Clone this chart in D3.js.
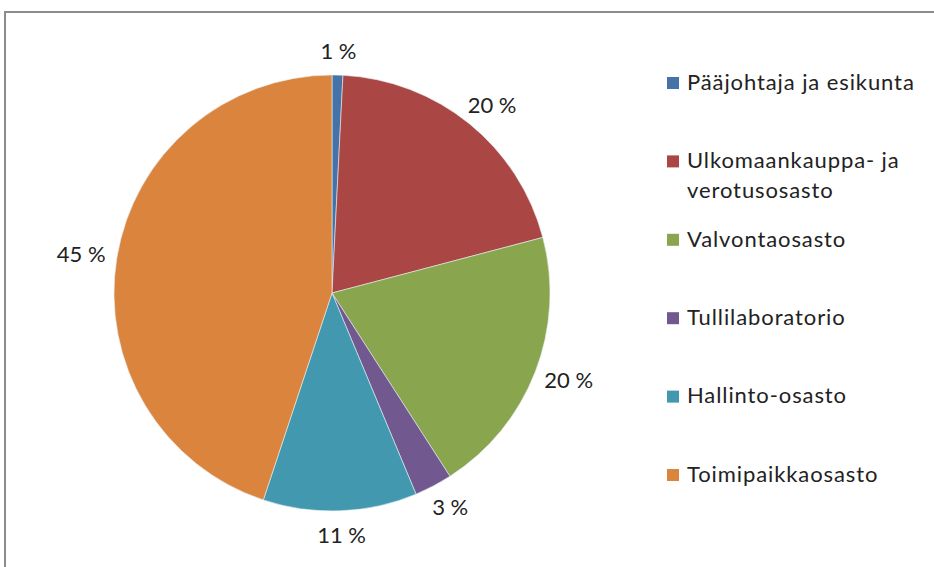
<!DOCTYPE html>
<html lang="fi">
    <head>
        <meta charset="utf-8">
        <title>Henkilöstö osastoittain (Pie)</title>
        <script type="text/javascript" src="https://d3js.org/d3.v7.min.js"></script>
        <style type="text/css">
            body { margin: 0; background: #fff; }
            svg { display: block; }
        </style>
    </head>
    <body>
        <script type="text/javascript">

        //Data
        const categories = ["Pääjohtaja ja esikunta", "Ulkomaankauppa- ja verotusosasto", "Valvontaosasto",
                            "Tullilaboratorio", "Hallinto-osasto", "Toimipaikkaosasto"];
        const values = [0.8, 20.1, 20.0, 2.8, 11.4, 44.9];
        const pctLabels = ["1 %", "20 %", "20 %", "3 %", "11 %", "45 %"];
        const legendLines = [["Pääjohtaja ja esikunta"], ["Ulkomaankauppa- ja", "verotusosasto"], ["Valvontaosasto"],
                             ["Tullilaboratorio"], ["Hallinto-osasto"], ["Toimipaikkaosasto"]];
        const colors = ["#4572A7", "#AA4643", "#89A54E", "#71588F", "#4198AF", "#DB843D"];

        //consts
        const width = 934;
        const height = 567;
        const cx = 332, cy = 293, radius = 218;
        const font = "Lato, 'Open Sans', sans-serif";

        const svg = d3.select("body")
                    .append("svg")
                    .attr("width", width)
                    .attr("height", height);

        //chart frame (runs off the right and bottom of the picture)
        svg.append("rect")
            .attr("x", 5)
            .attr("y", 12)
            .attr("width", width + 20)
            .attr("height", height + 20)
            .attr("fill", "none")
            .attr("stroke", "#8c8c8c")
            .attr("stroke-width", 2);

        const color = d3.scaleOrdinal().domain(categories).range(colors);

        const pie = d3.pie().sort(null).value(d => d.value);
        const arcs = pie(categories.map((c, i) => ({name: c, value: values[i], label: pctLabels[i]})));

        const arc = d3.arc().innerRadius(0).outerRadius(radius);

        const g = svg.append("g").attr("transform", "translate(" + cx + "," + cy + ")");

        g.selectAll("path")
            .data(arcs)
            .enter()
            .append("path")
            .attr("d", arc)
            .attr("fill", d => color(d.data.name))
            .attr("stroke", "#e8eef4")
            .attr("stroke-width", 0.6);

        //outside labels
        const labelR = radius + 12;
        g.selectAll("text.pct")
            .data(arcs)
            .enter()
            .append("text")
            .attr("class", "pct")
            .attr("x", d => {
                const a = (d.startAngle + d.endAngle) / 2;
                return Math.sin(a) * (labelR + 24);
            })
            .attr("y", d => {
                const a = (d.startAngle + d.endAngle) / 2;
                return -Math.cos(a) * (labelR + 12);
            })
            .attr("dy", "0.35em")
            .attr("text-anchor", "middle")
            .attr("font-family", font)
            .attr("font-size", "22px")
            .attr("fill", "#222")
            .text(d => d.data.label);

        //legend
        const legendY = d3.scalePoint().domain(categories).range([82, 474]);

        const legend = svg.selectAll("g.legend")
            .data(categories)
            .enter()
            .append("g")
            .attr("class", "legend")
            .attr("transform", d => "translate(667," + legendY(d) + ")");

        legend.append("rect")
            .attr("x", 0)
            .attr("y", -5)
            .attr("width", 12)
            .attr("height", 12)
            .attr("fill", d => color(d));

        legend.append("text")
            .attr("x", 20)
            .attr("y", 0)
            .attr("font-family", font)
            .attr("font-size", "22px")
            .attr("letter-spacing", "0.9px")
            .attr("fill", "#222")
            .selectAll("tspan")
            .data((d, i) => legendLines[i])
            .enter()
            .append("tspan")
            .attr("x", 20)
            .attr("dy", (l, j) => j === 0 ? "0.35em" : "30px")
            .text(l => l);

        </script>
    </body>
</html>
